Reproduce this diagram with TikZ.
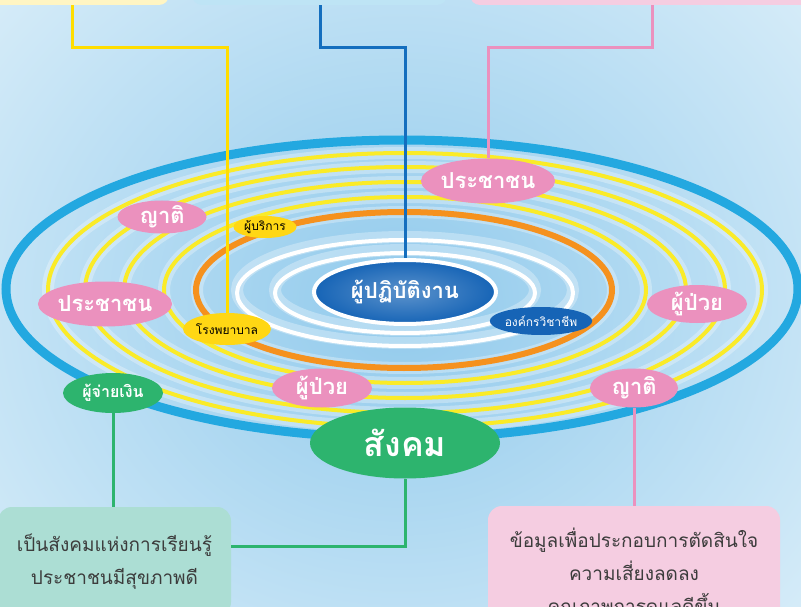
\documentclass[tikz,border=0pt]{standalone}
\usepackage{fontspec}
\setmainfont[Script=Thai]{Loma}
\usetikzlibrary{shapes.geometric, calc}
\definecolor{skyblue}{RGB}{145, 202, 236}
\definecolor{paleblue}{RGB}{212, 235, 248}
\definecolor{ringblue}{RGB}{35, 168, 224}
\definecolor{ringyellow}{RGB}{250, 235, 40}
\definecolor{ringorange}{RGB}{245, 145, 30}
\definecolor{bubpink}{RGB}{235, 145, 190}
\definecolor{bubyellow}{RGB}{255, 215, 20}
\definecolor{bubgreen}{RGB}{45, 180, 110}
\definecolor{bubnavy}{RGB}{22, 100, 182}
\definecolor{linkblue}{RGB}{20, 110, 190}
\definecolor{linkyellow}{RGB}{255, 221, 0}
\definecolor{boxmint}{RGB}{172, 222, 212}
\definecolor{boxpink}{RGB}{245, 205, 225}
\definecolor{boxyellow}{RGB}{255, 245, 195}
\definecolor{boxblue}{RGB}{190, 228, 245}
\definecolor{textgrey}{RGB}{60, 60, 60}

\begin{document}
\begin{tikzpicture}[x=1pt, y=-1pt,
  bubble/.style={ellipse, inner sep=0pt, text=white, font=\fontsize{22}{24}\selectfont\bfseries},
  pinkbub/.style={bubble, fill=bubpink},
  tag/.style={ellipse, inner sep=0pt, font=\fontsize{12}{14}\selectfont},
  ring/.style={line width=4pt},
  glow/.style={white, opacity=0.3, line width=12pt},
  link/.style={line width=3pt},
  topbox/.style={rounded corners=10pt, inner sep=0pt},
  textbox/.style={rounded corners=14pt, inner sep=0pt, align=center, text=textgrey, font=\fontsize{19}{33}\selectfont}]

  \useasboundingbox (0,0) rectangle (801,607);
  \clip (0,0) rectangle (801,607);

  % sky
  \shade[inner color=skyblue, outer color=paleblue] (-120,-160) rectangle (921,767);

  % rings
  \foreach \rx/\ry in {357/137, 320/123, 281/108, 241/93, 208/78, 168/53, 130/40}
    \draw[glow] (405,290) ellipse [x radius=\rx, y radius=\ry];
  \draw[ringblue, line width=9pt] (402,289) ellipse [x radius=396, y radius=149];
  \foreach \rx/\ry in {357/137, 320/123, 281/108, 241/93}
    \draw[ring, ringyellow] (405,290) ellipse [x radius=\rx, y radius=\ry];
  \draw[ringorange, line width=6pt] (404,290) ellipse [x radius=208, y radius=78];
  \foreach \rx/\ry in {168/53, 130/40}
    \draw[ring, white] (405,293) ellipse [x radius=\rx, y radius=\ry];

  % boxes at the top, cut off
  \node[topbox, fill=boxyellow, minimum width=189pt, minimum height=45pt] (topY) at (74.5,-17.5) {};
  \node[topbox, fill=boxblue, minimum width=255pt, minimum height=45pt] (topB) at (319.5,-17.5) {};
  \node[topbox, fill=boxpink, minimum width=351pt, minimum height=45pt] (topP) at (645.5,-17.5) {};

  % centre
  \node[ellipse, inner color=bubnavy!70!white, outer color=bubnavy, draw=white, line width=4pt, minimum width=182pt, minimum height=64pt, text=white, font=\fontsize{22}{24}\selectfont\bfseries] (worker) at (405,292) {ผู้ปฏิบัติงาน};

  % labels on the rings
  \node[pinkbub, minimum width=89pt, minimum height=33pt] (kinL) at (162,217) {ญาติ};
  \node[pinkbub, minimum width=124pt, minimum height=45pt] (peopleL) at (105,304) {ประชาชน};
  \node[pinkbub, minimum width=100pt, minimum height=39pt] (patientL) at (322,388) {ผู้ป่วย};
  \node[pinkbub, minimum width=123pt, minimum height=45pt] (peopleR) at (488,181) {ประชาชน};
  \node[pinkbub, minimum width=100pt, minimum height=38pt] (patientR) at (697,304) {ผู้ป่วย};
  \node[pinkbub, minimum width=88pt, minimum height=39pt] (kinR) at (634,388) {ญาติ};
  \node[tag, fill=bubyellow, minimum width=63pt, minimum height=22pt] (provider) at (265,227) {ผู้บริการ};
  \node[tag, fill=bubyellow, minimum width=83pt, minimum height=32pt] (hospital) at (227,329) {โรงพยาบาล};
  \node[tag, fill=bubnavy, text=white, minimum width=83pt, minimum height=28pt] (council) at (541,321) {องค์กรวิชาชีพ};
  \node[bubble, fill=bubgreen, font=\fontsize{16}{18}\selectfont\bfseries, minimum width=100pt, minimum height=40pt] (payer) at (113,393) {ผู้จ่ายเงิน};
  \node[bubble, fill=bubgreen, font=\fontsize{34}{36}\selectfont\bfseries, minimum width=190pt, minimum height=71pt] (society) at (405,443) {สังคม};

  % boxes at the bottom
  \node[textbox, fill=boxmint, minimum width=233pt, minimum height=109pt] (learn) at (114.5,561.5) {เป็นสังคมแห่งการเรียนรู้\\ประชาชนมีสุขภาพดี};
  \node[textbox, fill=boxpink, minimum width=292pt, minimum height=134pt] (info) at (634,573) {ข้อมูลเพื่อประกอบการตัดสินใจ\\ความเสี่ยงลดลง\\คุณภาพการดูแลดีขึ้น};

  % links
  \coordinate (yb) at (72,48);
  \coordinate (bb) at (320,48);
  \coordinate (pb) at (652,48);
  \coordinate (sj) at (231,546);
  \draw[link, linkyellow] (yb |- topY.south) -- (yb) -| (hospital.north);
  \draw[link, linkblue] (bb |- topB.south) -- (bb) -| (worker.north);
  \draw[link, bubpink] (pb |- topP.south) -- (pb) -| (peopleR.north);
  \draw[link, bubgreen] (payer.south) -- (payer.south |- learn.north);
  \draw[link, bubgreen] (society.south) |- (sj);
  \draw[link, bubpink] (kinR.south) -- (kinR.south |- info.north);
\end{tikzpicture}
\end{document}
